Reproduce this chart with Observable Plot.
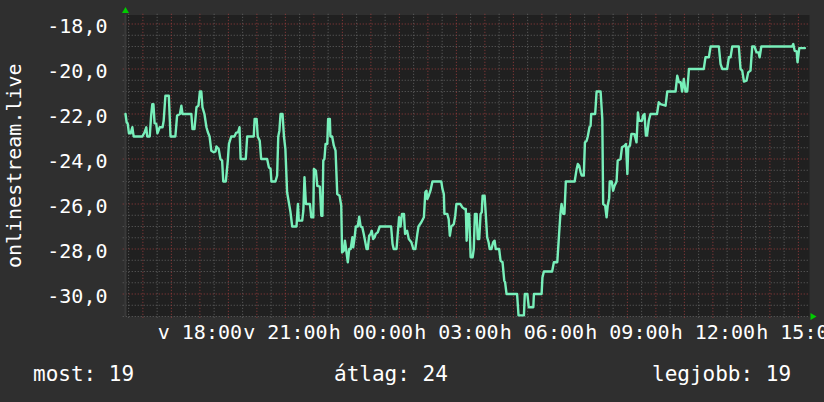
<!DOCTYPE html>
<html>
<head>
<meta charset="utf-8">
<script src="https://cdn.jsdelivr.net/npm/d3@7"></script>
<script src="https://cdn.jsdelivr.net/npm/@observablehq/plot@0.6"></script>
<style>
  html, body { margin: 0; padding: 0; background: #2f2f2f; }
  #wrap { width: 824px; height: 402px; overflow: hidden; background: #2f2f2f; }
  #wrap svg { display: block; }
</style>
</head>
<body>
<div id="wrap"></div>
<script>
// Time in hours since Sunday 00:00 (values > 24 are Monday)
const times = [
  15.39,15.43,15.47,15.51,15.57,15.63,15.66,15.68,15.98,16.06,16.12,16.15,16.24,16.29,16.33,16.37,16.41,16.47,16.51,16.59,
  16.69,16.73,16.79,16.91,16.97,17.14,17.20,17.30,17.35,17.39,17.70,17.74,17.81,17.88,17.95,18.00,18.05,18.09,18.16,18.23,
  18.28,18.34,18.40,18.49,18.55,18.58,18.66,18.72,18.78,18.82,18.91,18.98,19.02,19.10,19.21,19.27,19.34,19.39,19.43,19.61,
  19.66,19.89,19.92,19.99,20.03,20.10,20.15,20.36,20.42,20.48,20.51,20.65,20.71,20.75,20.79,20.83,20.90,20.95,21.00,21.06,
  21.18,21.24,21.39,21.44,21.47,21.59,21.63,21.67,21.72,21.86,21.91,21.98,22.00,22.07,22.12,22.21,22.26,22.30,22.33,22.37,
  22.41,22.47,22.50,22.56,22.58,22.64,22.70,22.76,22.82,22.90,22.96,22.99,23.05,23.09,23.13,23.19,23.24,23.29,23.35,23.38,
  23.43,23.47,23.54,23.59,23.64,23.70,23.75,23.85,23.89,23.94,23.99,24.03,24.08,24.13,24.17,24.24,24.31,24.71,24.76,24.80,
  24.90,24.95,24.99,25.04,25.09,25.16,25.20,25.27,25.33,25.42,25.49,25.56,25.63,25.67,25.77,25.86,25.91,25.95,25.98,26.03,
  26.09,26.16,26.47,26.51,26.56,26.58,26.68,26.73,26.77,26.82,26.91,26.96,27.00,27.14,27.21,27.29,27.33,27.36,27.40,27.45,
  27.50,27.57,27.61,27.65,27.71,27.75,27.80,27.85,27.89,27.92,27.99,28.03,28.08,28.13,28.17,28.23,28.29,28.34,28.38,28.50,
  28.55,28.62,28.68,28.71,28.76,29.13,29.18,29.37,29.40,29.49,29.54,29.70,29.72,29.99,30.02,30.07,30.36,30.42,30.54,30.60,
  30.65,30.69,30.75,30.79,30.84,31.15,31.22,31.26,31.31,31.36,31.40,31.47,31.51,31.57,31.61,31.67,31.71,31.73,31.87,31.92,
  32.06,32.12,32.15,32.22,32.27,32.31,32.36,32.38,32.45,32.50,32.55,32.62,32.66,32.76,32.81,32.90,32.95,33.00,33.03,33.09,
  33.14,33.19,33.25,33.32,33.37,33.41,33.51,33.55,33.60,33.65,33.69,33.75,33.81,34.04,34.10,34.16,34.34,34.40,34.69,34.75,
  34.81,34.87,34.92,34.98,35.04,35.10,35.16,35.68,35.74,35.86,35.92,36.21,36.27,36.33,36.50,36.56,36.62,36.68,36.91,36.97,
  37.03,37.09,37.18,37.24,37.32,37.38,37.46,37.53,37.60,37.64,37.70,38.78,38.82,38.87,38.94,38.97,39.03,39.23
];
const values = [
  -22,-22.37,-22.44,-22.86,-22.86,-22.59,-22.86,-23,-23,-22.81,-22.59,-23,-23,-22.07,-21.56,-21.56,-22.41,-22.44,-22.86,-22.59,
  -22.59,-22.3,-21.19,-21.19,-23,-23,-22.07,-22,-21.63,-22,-22,-22.67,-22.67,-21.7,-21.63,-21,-21,-21.7,-22,-22.59,
  -22.81,-23,-23.63,-23.7,-23.66,-23.44,-23.56,-24,-24.07,-25,-25,-24.07,-23.33,-23,-23,-22.84,-22.81,-22.59,-24,-24,
  -23,-23,-22.22,-22.22,-23,-23.19,-24,-24,-24.37,-24.44,-25,-25,-24.74,-23,-22.74,-22,-22,-23,-23.56,-25.48,
  -26.37,-27,-27,-26,-26.74,-26.74,-26.3,-24.81,-26,-26,-26.59,-26.59,-24.44,-24.52,-25.19,-25.23,-26.52,-26.52,-24.07,-24,
  -23.33,-23.33,-22.22,-22.22,-23,-23,-23.41,-23.63,-25.56,-25.63,-26.07,-28.15,-28.07,-27.63,-28,-28.59,-28,-28,-27.48,-27.93,
  -27.48,-27,-27,-26.56,-27,-27.04,-27.33,-28,-28,-27.41,-27.33,-27.19,-27.56,-27.48,-27.33,-27.26,-27,-27,-27.78,-28,
  -28,-27.19,-26.59,-27,-26.44,-26.44,-27.33,-27.19,-27.56,-27.7,-28,-28,-27.33,-27,-26.81,-26.59,-25.48,-25.41,-25.78,-25.63,
  -25.41,-25,-25,-25.33,-25.56,-26.44,-26.44,-26.67,-27.41,-27,-26.89,-26.52,-26,-26,-26.15,-26.22,-26.22,-27.63,-26.44,-26.44,
  -28.37,-28.37,-28,-26.44,-26.44,-27.56,-27.56,-26.44,-26.37,-25.63,-25.63,-26.44,-27.48,-27.7,-28,-28,-27.7,-27.63,-28,-28,
  -28.52,-28.59,-29.41,-29.48,-30,-30,-30.95,-30.95,-30,-30,-30.59,-30.59,-30,-30,-29.26,-29,-29,-28.59,-28.59,-27.41,
  -26.44,-26,-26.44,-26.44,-25,-25,-24.44,-24.22,-24.3,-24.59,-24.74,-24.74,-23.26,-23.19,-23,-22.59,-22.52,-22,-22,-21,
  -21,-22.22,-26,-26.07,-26.59,-26.07,-25.74,-25,-25,-25.41,-25.19,-25,-24.07,-24,-23.48,-23.41,-23.33,-24.67,-23.48,-23.41,
  -22.89,-22.89,-22.9,-23.26,-21.93,-22.3,-22.3,-22.07,-22,-22.96,-22.96,-22.3,-22,-22,-21.48,-21.56,-21.63,-21,-21,-20.3,
  -20.59,-20.59,-21,-20.44,-21,-21,-20,-20,-19.48,-19.48,-19,-19,-19.78,-20,-20,-19.48,-19.48,-19,-19,-20,
  -20.07,-20.56,-20.52,-20.15,-20.07,-19,-19,-19.26,-19.26,-19.48,-19,-19,-18.89,-19.19,-19.22,-19.7,-19.07,-19.07
];

const xDomain = [15.39, 39.39];
const yDomain = [-31, -17.6];
const xTicks = [18, 21, 24, 27, 30, 33, 36, 39];
const xTickLabels = ["v 18:00", "v 21:00", "h 00:00", "h 03:00", "h 06:00", "h 09:00", "h 12:00", "h 15:00"];
const yTicks = [-18, -20, -22, -24, -26, -28, -30];
const yTickLabels = ["-18,0", "-20,0", "-22,0", "-24,0", "-26,0", "-28,0", "-30,0"];
const yTitle = "onlinestream.live";
const statNames = ["most", "átlag", "legjobb"];
const statValues = [19, 24, 19];

const data = times.map((t, i) => ({t, v: values[i]}));
const xMinor = d3.range(15.5, xDomain[1], 1);
const xMajor = d3.range(16, xDomain[1], 1);
const yMinor = d3.range(-31, yDomain[1], 0.5).filter(v => Math.abs(v % 2) > 0.01);
const yMajor = d3.range(-30, yDomain[1], 2);

const minorColor = "#626262";
const majorColor = "#953c3c";
const dash = "1,2";

const chart = Plot.plot({
  width: 824,
  height: 340,
  marginLeft: 125,
  marginRight: 15,
  marginTop: 14.5,
  marginBottom: 24,
  style: {background: "#2f2f2f", fontFamily: "'DejaVu Sans Mono', monospace", fontSize: "20px", color: "#ffffff", overflow: "hidden"},
  x: {domain: xDomain},
  y: {domain: yDomain},
  marks: [
    Plot.frame({fill: "#202020", stroke: null}),
    Plot.ruleY(yMinor, {stroke: minorColor, strokeDasharray: dash, x1: xDomain[0] - 0.08, x2: xDomain[1]}),
    Plot.ruleX(xMinor, {stroke: minorColor, strokeDasharray: dash, y1: yDomain[0] - 0.08, y2: yDomain[1] + 0.06}),
    Plot.ruleY(yMajor, {stroke: majorColor, strokeDasharray: dash, x1: xDomain[0] - 0.08, x2: xDomain[1]}),
    Plot.ruleX(xMajor, {stroke: majorColor, strokeDasharray: dash, y1: yDomain[0] - 0.08, y2: yDomain[1] + 0.06}),
    Plot.ruleX([xDomain[0]], {stroke: "#3a3a3a", strokeWidth: 2}),
    Plot.line(data, {x: "t", y: "v", stroke: "#78efba", strokeWidth: 2.4, strokeLinejoin: "round"}),
    Plot.axisX(xTicks, {tickSize: 0, tickPadding: 8, tickFormat: d => xTickLabels[xTicks.indexOf(d)], label: null, fill: "#ffffff", fontSize: 20}),
    Plot.axisY(yTicks, {tickSize: 0, tickPadding: 18, dy: 2.5, tickFormat: d => yTickLabels[yTicks.indexOf(d)], label: null, fill: "#ffffff", fontSize: 20}),
    Plot.text([yTitle], {frameAnchor: "left", textAnchor: "middle", lineAnchor: "middle", rotate: -90, dx: -111, fill: "#ffffff", fontSize: 20}),
    Plot.dot([{x: xDomain[0], y: yDomain[1]}], {x: "x", y: "y", symbol: "triangle", r: 2.6, fill: "#00cc00", stroke: null, dy: -4}),
    Plot.dot([{x: xDomain[1], y: yDomain[0]}], {x: "x", y: "y", symbol: "triangle", r: 2.6, fill: "#00cc00", stroke: null, rotate: 90, dx: 3})
  ]
});

const wrap = document.getElementById("wrap");
wrap.appendChild(chart);

// footer with stats
const ns = "http://www.w3.org/2000/svg";
const foot = document.createElementNS(ns, "svg");
foot.setAttribute("width", 824);
foot.setAttribute("height", 62);
foot.style.display = "block";
foot.style.background = "#2f2f2f";
const footX = [33, 334, 652];
statNames.forEach((n, i) => {
  const t = document.createElementNS(ns, "text");
  t.setAttribute("x", footX[i]);
  t.setAttribute("y", 41);
  t.setAttribute("fill", "#ffffff");
  t.setAttribute("font-family", "'DejaVu Sans Mono', monospace");
  t.setAttribute("font-size", "21");
  t.textContent = `${n}: ${statValues[i]}`;
  foot.appendChild(t);
});
wrap.appendChild(foot);
</script>
</body>
</html>
